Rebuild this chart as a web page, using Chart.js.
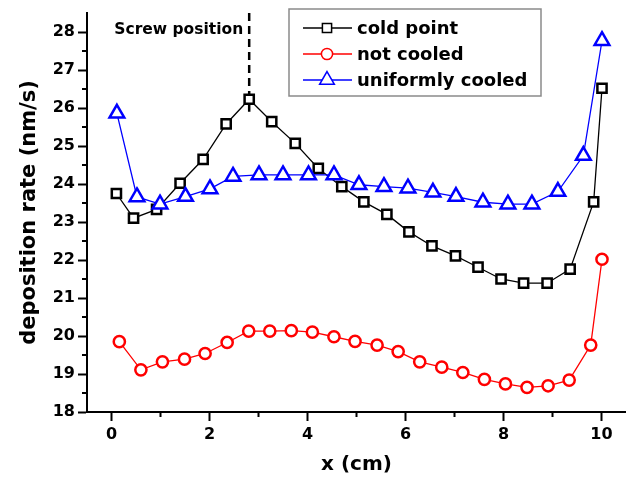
<!DOCTYPE html>
<html lang="en">
<head>
<meta charset="UTF-8">
<title>Deposition rate</title>
<script src="https://cdn.jsdelivr.net/npm/chart.js"></script>
<style>
  body { margin: 0; background: #fff; }
</style>
</head>
<body>
<canvas id="rateChart" width="626" height="483"></canvas>
<script>
// data
var coldX = [0.10, 0.45, 0.92, 1.40, 1.87, 2.34, 2.81, 3.27, 3.75, 4.22, 4.70, 5.15, 5.62, 6.07, 6.54, 7.02, 7.48, 7.95, 8.41, 8.89, 9.36, 9.84, 10.01];
var coldY = [23.75, 23.10, 23.33, 24.02, 24.65, 25.58, 26.23, 25.64, 25.07, 24.41, 23.93, 23.53, 23.20, 22.74, 22.37, 22.11, 21.81, 21.50, 21.39, 21.39, 21.76, 23.53, 26.52];

var notCooledX = [0.16, 0.60, 1.04, 1.49, 1.91, 2.36, 2.80, 3.23, 3.67, 4.10, 4.54, 4.97, 5.42, 5.85, 6.29, 6.74, 7.17, 7.61, 8.04, 8.48, 8.91, 9.34, 9.78, 10.01];
var notCooledY = [19.85, 19.11, 19.32, 19.39, 19.54, 19.83, 20.13, 20.13, 20.14, 20.10, 19.98, 19.86, 19.76, 19.59, 19.32, 19.18, 19.04, 18.86, 18.74, 18.65, 18.69, 18.84, 19.76, 22.02];

var uniformX = [0.11, 0.52, 0.99, 1.51, 2.01, 2.48, 3.01, 3.50, 4.02, 4.54, 5.05, 5.56, 6.05, 6.56, 7.03, 7.58, 8.09, 8.58, 9.11, 9.63, 10.01];
var uniformY = [25.86, 23.66, 23.47, 23.67, 23.87, 24.20, 24.24, 24.24, 24.24, 24.24, 23.98, 23.93, 23.89, 23.78, 23.67, 23.52, 23.47, 23.47, 23.80, 24.75, 27.77];

var seriesNames = ["cold point", "not cooled", "uniformly cooled"];

var xTicks = [0, 2, 4, 6, 8, 10];
var xMinor = [1, 3, 5, 7, 9];
var yTicks = [18, 19, 20, 21, 22, 23, 24, 25, 26, 27, 28];
var yMinor = [18.5, 19.5, 20.5, 21.5, 22.5, 23.5, 24.5, 25.5, 26.5, 27.5];

var screwX = 2.81;
var screwEnd = 25.9;
var screwLabel = "Screw position";

var FONT = "'DejaVu Sans', sans-serif";

function pts(xs, ys) {
  return xs.map(function (x, i) { return { x: x, y: ys[i] }; });
}

// minor ticks, screw marker and the boxed legend
var extras = {
  id: 'extras',
  beforeDatasetsDraw: function (chart) {
    var ctx = chart.ctx;
    var area = chart.chartArea;
    var px = chart.scales.x.getPixelForValue(screwX);
    ctx.save();
    ctx.strokeStyle = '#000';
    ctx.lineWidth = 2.5;
    ctx.setLineDash([8, 5]);
    ctx.beginPath();
    ctx.moveTo(px, area.top);
    ctx.lineTo(px, chart.scales.y.getPixelForValue(screwEnd));
    ctx.stroke();
    ctx.setLineDash([]);
    ctx.fillStyle = '#000';
    ctx.font = "bold 15.5px " + FONT;
    ctx.textAlign = 'right';
    ctx.textBaseline = 'middle';
    ctx.fillText(screwLabel, px - 6, area.top + 17);
    ctx.restore();
  },
  afterDraw: function (chart) {
    var ctx = chart.ctx;
    var area = chart.chartArea;
    var xs = chart.scales.x, ys = chart.scales.y;
    ctx.save();
    ctx.strokeStyle = '#000';
    ctx.lineWidth = 2;
    ctx.beginPath();
    xMinor.forEach(function (v) {
      var p = xs.getPixelForValue(v);
      ctx.moveTo(p, area.bottom);
      ctx.lineTo(p, area.bottom + 5);
    });
    yMinor.forEach(function (v) {
      var p = ys.getPixelForValue(v);
      ctx.moveTo(area.left, p);
      ctx.lineTo(area.left - 5, p);
    });
    ctx.stroke();

    // legend
    var bx = 289, by = 9, bw = 252, bh = 87;
    ctx.fillStyle = '#fff';
    ctx.fillRect(bx, by, bw, bh);
    ctx.strokeStyle = '#8a8a8a';
    ctx.lineWidth = 1.5;
    ctx.strokeRect(bx, by, bw, bh);
    ctx.font = "bold 18px " + FONT;
    ctx.textAlign = 'left';
    ctx.textBaseline = 'middle';
    chart.data.datasets.forEach(function (ds, i) {
      var y = by + 19 + i * 26;
      ctx.strokeStyle = ds.borderColor;
      ctx.lineWidth = 1.5;
      ctx.beginPath();
      ctx.moveTo(bx + 14, y);
      ctx.lineTo(bx + 63, y);
      ctx.stroke();
      ctx.fillStyle = '#fff';
      ctx.strokeStyle = ds.borderColor;
      Chart.helpers.drawPoint(ctx, {
        pointStyle: ds.pointStyle,
        radius: ds.pointRadius,
        borderWidth: ds.pointBorderWidth,
        rotation: 0
      }, bx + 38, y);
      ctx.fillStyle = '#000';
      ctx.fillText(ds.label, bx + 68, y + 1);
    });
    ctx.restore();
  }
};

var ctx = document.getElementById('rateChart');
new Chart(ctx, {
  type: 'line',
  data: {
    datasets: [{
      label: seriesNames[0],
      data: pts(coldX, coldY),
      borderColor: '#000000',
      borderWidth: 1.3,
      pointStyle: 'rect',
      pointRadius: 6.5,
      pointBorderWidth: 2.5,
      pointBackgroundColor: '#ffffff',
      pointBorderColor: '#000000',
      order: 2
    }, {
      label: seriesNames[1],
      data: pts(notCooledX, notCooledY),
      borderColor: '#ff0000',
      borderWidth: 1.3,
      pointStyle: 'circle',
      pointRadius: 5.6,
      pointBorderWidth: 2.5,
      pointBackgroundColor: '#ffffff',
      pointBorderColor: '#ff0000',
      order: 3
    }, {
      label: seriesNames[2],
      data: pts(uniformX, uniformY),
      borderColor: '#0000ff',
      borderWidth: 1.3,
      pointStyle: 'triangle',
      pointRadius: 8.5,
      pointBorderWidth: 2.5,
      pointBackgroundColor: '#ffffff',
      pointBorderColor: '#0000ff',
      order: 1
    }]
  },
  options: {
    responsive: false,
    animation: false,
    devicePixelRatio: 1,
    layout: { autoPadding: false, padding: { top: 13, right: 0, left: 0, bottom: 0 } },
    plugins: {
      legend: { display: false },
      tooltip: { enabled: false }
    },
    elements: { line: { tension: 0 } },
    scales: {
      x: {
        type: 'linear',
        min: -0.5,
        max: 10.5,
        afterBuildTicks: function (s) { s.ticks = xTicks.map(function (v) { return { value: v }; }); },
        afterFit: function (s) { s.height = 71; s.paddingLeft = 0; s.paddingRight = 0; },
        border: { color: '#000', width: 2 },
        grid: { drawOnChartArea: false, tickLength: 9, tickWidth: 2, tickColor: '#000' },
        ticks: { color: '#000', padding: 4, maxRotation: 0, font: { family: FONT, size: 16, weight: 'bold' } },
        title: {
          display: true, text: 'x (cm)', color: '#000',
          font: { family: FONT, size: 20, weight: 'bold' },
          padding: { top: 0, bottom: 6 }
        }
      },
      y: {
        min: 18,
        max: 28.5,
        afterBuildTicks: function (s) { s.ticks = yTicks.map(function (v) { return { value: v }; }); },
        afterFit: function (s) { s.width = 87; s.paddingTop = 0; s.paddingBottom = 0; },
        border: { color: '#000', width: 2 },
        grid: { drawOnChartArea: false, tickLength: 9, tickWidth: 2, tickColor: '#000' },
        ticks: { color: '#000', padding: 3, font: { family: FONT, size: 16, weight: 'bold' } },
        title: {
          display: true, text: 'deposition rate (nm/s)', color: '#000',
          font: { family: FONT, size: 21, weight: 'bold' },
          padding: { top: 17, bottom: 0 }
        }
      }
    }
  },
  plugins: [extras]
});
</script>
</body>
</html>
